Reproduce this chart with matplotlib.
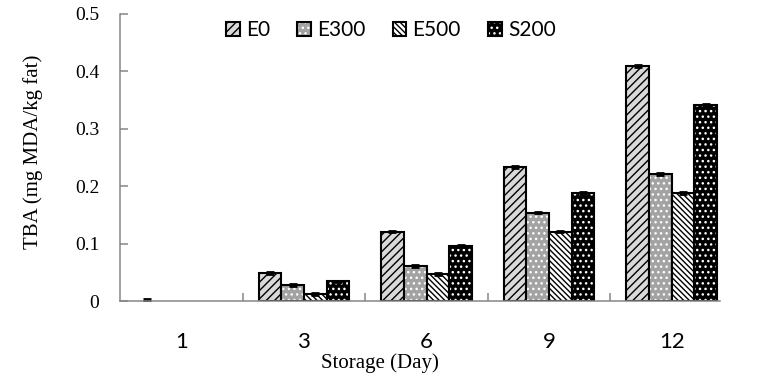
import numpy as np
import matplotlib.pyplot as plt
from matplotlib.patches import Patch

days = ['1', '3', '6', '9', '12']
groups = ['E0', 'E300', 'E500', 'S200']
E0 = [0.002, 0.049, 0.121, 0.233, 0.409]
E300 = [0.0, 0.028, 0.061, 0.154, 0.221]
E500 = [0.0, 0.012, 0.047, 0.121, 0.188]
S200 = [0.0, 0.034, 0.096, 0.188, 0.341]
err = 0.0015

faces = ['#d9d9d9', '#a3a3a3', 'white', 'black']
hcols = ['black', 'white', 'black', 'white']
hatches = ['////', '...', '\\\\\\\\\\\\', '...']

fig = plt.figure(figsize=(7.63, 3.78), dpi=100)
ax = fig.add_axes([120 / 763, 77 / 378, 613 / 763, 287 / 378])

x = np.arange(len(days))
w = 0.185
handles = []
for i, vals in enumerate([E0, E300, E500, S200]):
    pos = x + (i - 1.5) * w
    vals = np.array(vals)
    big = vals > 0.005
    ax.bar(pos[big], vals[big], w, color=faces[i], edgecolor=hcols[i], hatch=hatches[i], linewidth=0)
    ax.bar(pos[big], vals[big], w, fill=False, edgecolor='black', linewidth=1.5)
    m = vals > 0
    ax.errorbar(pos[m], vals[m], yerr=err, fmt='none', ecolor='black',
                capsize=3.2, capthick=2, elinewidth=1)
    handles.append((Patch(facecolor=faces[i], edgecolor=hcols[i], hatch=hatches[i], linewidth=0),
                    Patch(fill=False, edgecolor='black', linewidth=1.5)))

ax.set_xlim(-0.5, 4.5)
ax.set_ylim(0, 0.5)
ax.set_yticks([0, 0.1, 0.2, 0.3, 0.4, 0.5])
ax.set_yticklabels(['0', '0.1', '0.2', '0.3', '0.4', '0.5'], fontfamily='Liberation Serif', fontsize=14)
ax.set_xticks(x)
ax.set_xticklabels(days, fontfamily='Lato', fontsize=16)
ax.set_xticks([0.5, 1.5, 2.5, 3.5], minor=True)
ax.tick_params(axis='x', which='major', length=0, pad=22)
ax.tick_params(axis='x', which='minor', direction='in', length=6, color='#868686', width=1.1)
ax.tick_params(axis='y', direction='in', length=6, color='#868686', width=1.1, pad=15)

for s in ['top', 'right']:
    ax.spines[s].set_visible(False)
for s in ['left', 'bottom']:
    ax.spines[s].set_color('#868686')
    ax.spines[s].set_linewidth(1.1)
ax.spines['bottom'].set_bounds(-0.5, 4.39)

fig.text(33 / 763, 1 - 152 / 378, 'TBA (mg MDA/kg fat)', rotation=90, ha='center', va='center',
         fontfamily='Liberation Serif', fontsize=15)
fig.text(380 / 763, 1 - 363 / 378, 'Storage (Day)', ha='center', va='center',
         fontfamily='Liberation Serif', fontsize=15)

fig.legend(handles, groups, loc='center', bbox_to_anchor=(391 / 763, 1 - 30 / 378), ncol=4,
           frameon=False, prop={'family': 'Lato', 'size': 15}, handlelength=0.65, handleheight=0.65,
           handletextpad=0.3, columnspacing=1.3)

fig.savefig('out.png', dpi=100)
